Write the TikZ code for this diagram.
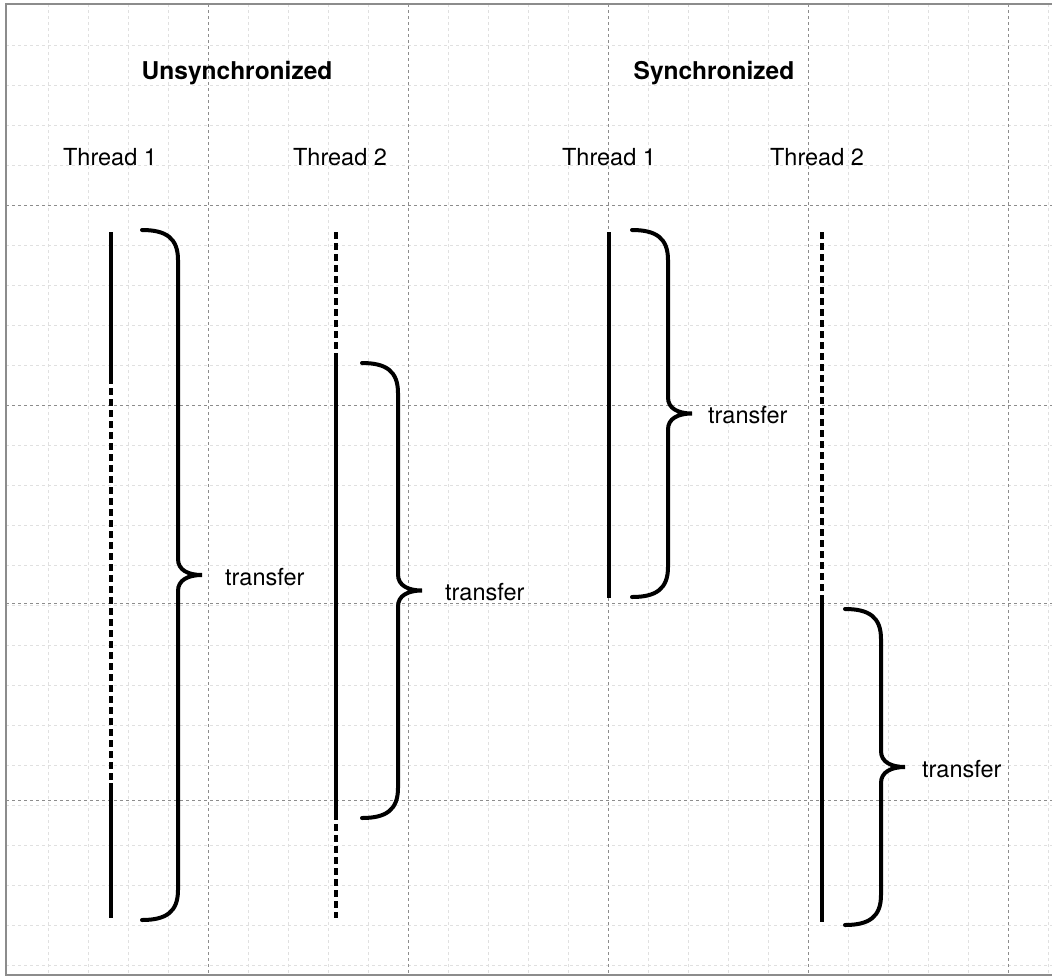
\documentclass[tikz,border=0pt]{standalone}
\usepackage{fontspec}
\setmainfont{TeX Gyre Heros}
\usetikzlibrary{calc}
\definecolor{PaperLine}{HTML}{8C8C8C}
\definecolor{PaperFaint}{HTML}{E0E0E0}
\tikzset{every node/.style={font=\fontsize{23.5}{28}\selectfont},
 title/.style={font=\fontsize{24.5}{29}\selectfont\bfseries},
 run/.style={line width=3.4pt},idle/.style={line width=3.4pt,dash pattern=on 7pt off 4pt},
 bracket/.style={line width=4pt,line cap=round}}
\begin{document}
\begin{tikzpicture}[x=1pt,y=-1pt]
\useasboundingbox (0,0) rectangle (1052,978);
% graph paper
\foreach \g in {48,88,...,1048}
 {\draw[PaperFaint,dashed,thin] (\g,4)--(\g,975);}
\foreach \g in {45,85,...,965}
 {\draw[PaperFaint,dashed,thin] (6,\g)--(1052,\g);}
\foreach \g in {208,408,608,808,1008}
 {\draw[PaperLine,dashed] (\g,4)--(\g,975);}
\foreach \g in {205,405,603,800}
 {\draw[PaperLine,dashed] (6,\g)--(1052,\g);}
\draw[PaperLine,line width=1.4pt] (1052,4)--(6,4)--(6,975)--(1052,975);
% headings
\node[title] (unsync) at (237,73) {Unsynchronized};
\node[title] (sync) at (714,73) {Synchronized};
\foreach \n/\x/\lab in {ua/110/Thread 1,ub/340/Thread 2,sa/609/Thread 1,sb/817/Thread 2}
 {\node (\n) at (\x,157) {\lab};}
% threads: running and waiting parts
\foreach \x/\ya/\yb/\s in {111/232/377/run,111/377/783/idle,111/783/918/run,
 336/232/353/idle,336/353/813/run,336/813/918/idle,609/232/598/run,
 822/232/598/idle,822/598/922/run}
 {\draw[\s] (\x,\ya)--(\x,\yb);}
% transfer braces
\foreach \n/\x/\yt/\yb/\lx in {tua/142/230/920/225,tub/362/363/818/445,
 tsa/632/230/597/708,tsb/845/609/925/922}
 {\pgfmathsetmacro\ym{(\yt+\yb)/2}
 \draw[bracket] (\x,\yt) .. controls (\x+24,\yt) and (\x+36,\yt+8) .. (\x+36,\yt+30)
  -- (\x+36,\ym-16) .. controls (\x+36,\ym-5) and (\x+46,\ym) .. (\x+60,\ym)
  .. controls (\x+46,\ym) and (\x+36,\ym+5) .. (\x+36,\ym+16)
  -- (\x+36,\yb-30) .. controls (\x+36,\yb-8) and (\x+24,\yb) .. (\x,\yb);
 \node[anchor=west,inner sep=0pt] (\n) at (\lx,\ym+2) {transfer};}
\end{tikzpicture}
\end{document}
